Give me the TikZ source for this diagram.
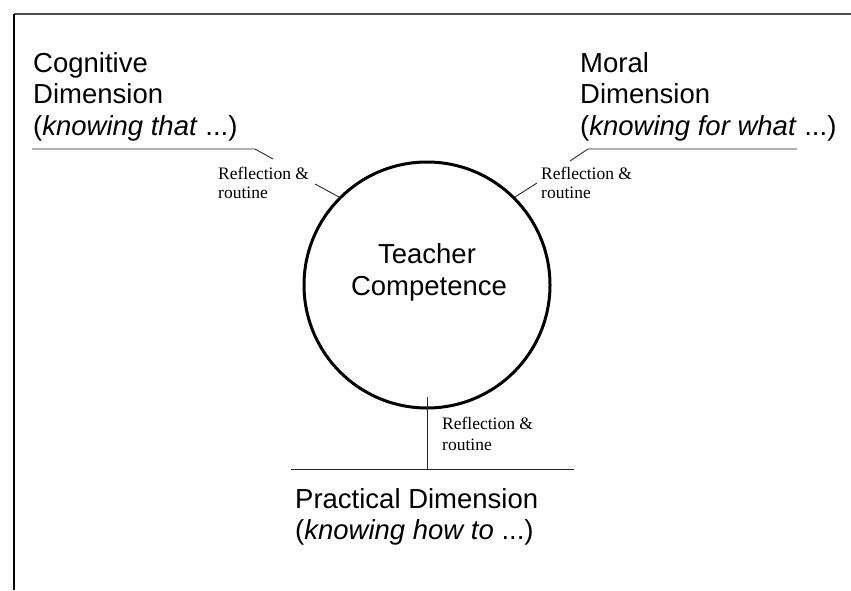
\documentclass[tikz,border=0pt]{standalone}
\usepackage{fontspec}
\setmainfont{Liberation Serif}
\newfontfamily\headfont{Liberation Sans}
\begin{document}
\begin{tikzpicture}[x=1pt,y=-1pt,
  big/.style={font=\headfont\fontsize{27.5}{32}\selectfont, anchor=base west, inner sep=0pt},
  small/.style={font=\fontsize{17.5}{20}\selectfont, anchor=base west, inner sep=0pt},
  link/.style={line width=0.9pt, black!85},
  frameline/.style={line width=2pt}]
\useasboundingbox (0,0) rectangle (851,590);

% page frame (top and left edges)
\coordinate (fo) at (14,14);
\coordinate (fr) at (851,14);
\coordinate (fb) at (14,590);
\draw[frameline, black!70] (fo) -- (fr);
\draw[frameline] (fo) -- (fb);

% central circle
\node[circle, draw, line width=3pt, minimum size=246pt, inner sep=0pt] (tc) at (427,285) {};
\node[big, anchor=base] (tca) at (427,263) {Teacher};
\node[big, anchor=base] (tcb) at (429,295) {Competence};

% cognitive dimension
\node[big] (cog1) at (33,72) {Cognitive};
\node[big] (cog2) at (33,103) {Dimension};
\node[big] (cog3) at (33,135) {(\textit{knowing that} ...)};
\coordinate (cl1) at (32,149);
\coordinate (cl2) at (255,149);
\coordinate (cl3) at (273,159);
\coordinate (cl4) at (315,184);
\draw[link] (cl1) -- (cl2) -- (cl3);
\draw[link] (cl4) -- (tc.135);
\node[small] (rl1) at (218,179) {Reflection \&};
\node[small] (rl2) at (218,198) {routine};

% moral dimension
\node[big] (mor1) at (580,72) {Moral};
\node[big] (mor2) at (580,103) {Dimension};
\node[big] (mor3) at (580,135) {(\textit{knowing for what} ...)};
\coordinate (cr1) at (797,149);
\coordinate (cr2) at (588,149);
\coordinate (cr3) at (570,161);
\coordinate (cr4) at (537,183);
\draw[link] (cr1) -- (cr2) -- (cr3);
\draw[link] (cr4) -- (tc.45);
\node[small] (rr1) at (541,179) {Reflection \&};
\node[small] (rr2) at (541,198) {routine};

% practical dimension
\coordinate (cb1) at (427,397);
\coordinate (cb2) at (427,469);
\coordinate (cb3) at (291,469);
\coordinate (cb4) at (574,469);
\draw[link] (cb1) -- (cb2);
\draw[link] (cb3) -- (cb4);
\node[small] (rb1) at (442,429) {Reflection \&};
\node[small] (rb2) at (442,450) {routine};
\node[big] (pra1) at (295,508) {Practical Dimension};
\node[big] (pra2) at (295,539) {(\textit{knowing how to} ...)};
\end{tikzpicture}
\end{document}
